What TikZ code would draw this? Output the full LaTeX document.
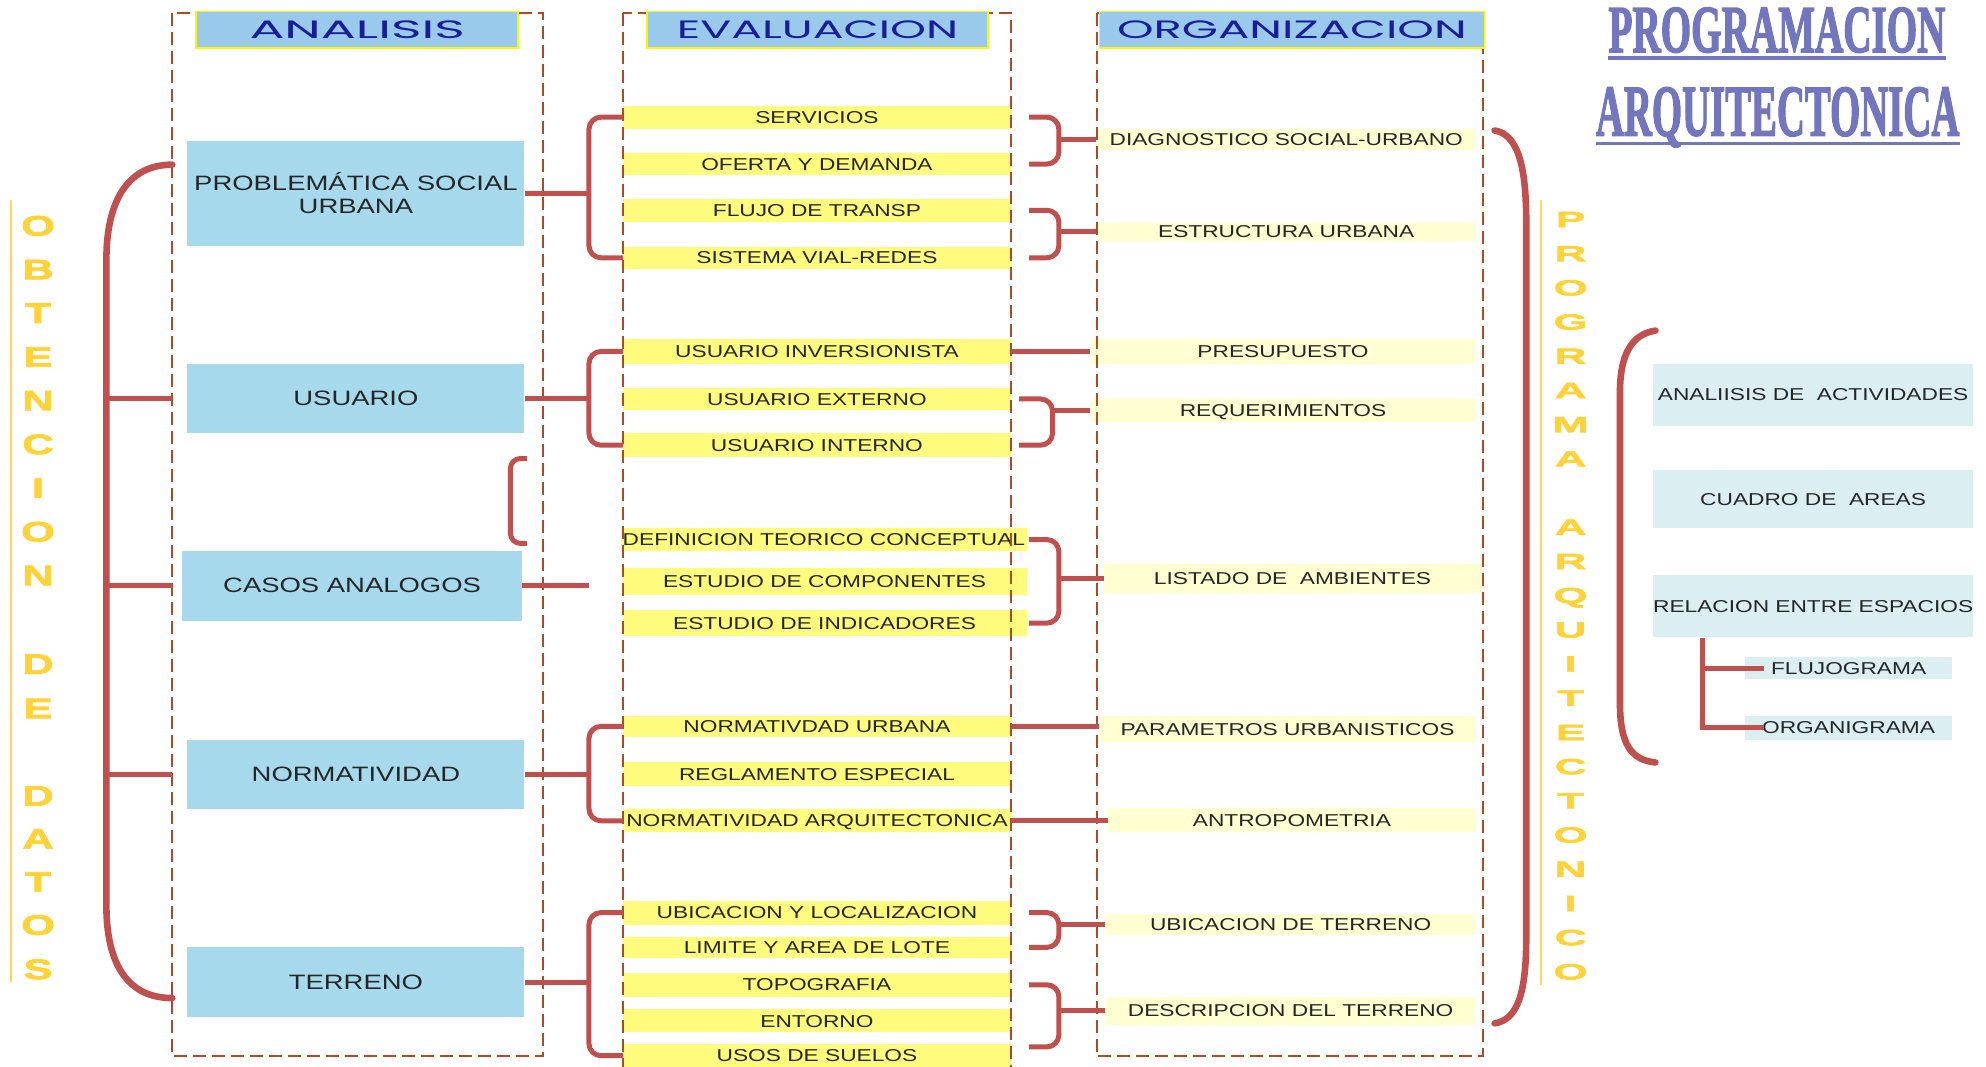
\documentclass[tikz,border=0pt]{standalone}
\usepackage{fontspec}
\usepackage{graphicx}
\setmainfont{Liberation Sans}
\newfontfamily\bodyfont[FakeStretch=1.32]{Liberation Sans}
\newfontfamily\hdrfont{Poppins}
\newfontfamily\titlefont[FakeBold=2.5]{Liberation Serif}
\newfontfamily\vletfontL[FakeStretch=1.55,FakeBold=2.5]{Liberation Sans}
\newfontfamily\vletfontR[FakeStretch=2.0,FakeBold=2.5]{Liberation Sans}

\newdimen\pxu \pxu=0.6333pt

\definecolor{linered}{RGB}{192,80,77}
\definecolor{dashcol}{RGB}{172,76,38}
\definecolor{aboxfill}{RGB}{166,217,236}
\definecolor{hdrfill}{RGB}{153,201,235}
\definecolor{hdrline}{RGB}{255,245,0}
\definecolor{hdrtext}{RGB}{25,30,150}
\definecolor{evfill}{RGB}{255,252,125}
\definecolor{orgfill}{RGB}{255,255,210}
\definecolor{rfill}{RGB}{219,238,242}
\definecolor{txtdark}{RGB}{38,38,38}
\definecolor{yellowtxt}{RGB}{255,210,55}
\definecolor{yellowline}{RGB}{255,215,90}
\definecolor{titleblue}{RGB}{114,118,190}

\tikzset{
  sz/.style 2 args={minimum width=#1*0.6333pt, minimum height=#2*0.6333pt},
  abox/.style={fill=aboxfill, inner sep=0pt, align=center, text=txtdark,
    font=\bodyfont\fontsize{10.4}{11.6}\selectfont},
  ebar/.style={fill=evfill, inner sep=0pt, text=txtdark, text height=6.2pt, text depth=0pt,
    font=\bodyfont\fontsize{8.6}{10}\selectfont},
  obar/.style={ebar, fill=orgfill},
  rbox/.style={ebar, fill=rfill},
  hdr/.style={fill=hdrfill, draw=hdrline, line width=0.9pt, inner sep=0pt, text=hdrtext},
  column/.style={draw=dashcol, line width=1pt, dash pattern=on 6.5pt off 3pt},
  conn/.style={draw=linered, line width=2.5pt},
  bigbrk/.style={draw=linered, line width=3.3pt, line cap=round},
  yline/.style={draw=yellowline, line width=1pt},
  vletL/.style={text=yellowtxt, inner sep=0pt, anchor=base,
    font=\vletfontL\bfseries\fontsize{14.1}{14}\selectfont},
  vletR/.style={text=yellowtxt, inner sep=0pt, anchor=base,
    font=\vletfontR\bfseries\fontsize{11}{11}\selectfont},
  titletxt/.style={text=titleblue, inner sep=0pt, anchor=base, font=\titlefont\bfseries},
  uline/.style={draw=titleblue, line width=1.6pt}
}

\begin{document}
\begin{tikzpicture}[x=0.6333pt,y=-0.6333pt]
\useasboundingbox (0,0) rectangle (1568,842);

% ---------- ANALISIS boxes ----------
\node[abox, sz={266}{83}] (psu) at (281,152.5) {PROBLEMÁTICA SOCIAL\\URBANA};
\node[abox, sz={266}{55}] (usu) at (281,314.5) {USUARIO};
\node[abox, sz={268}{55}] (cas) at (278,462.5) {CASOS ANALOGOS};
\node[abox, sz={266}{55}] (nor) at (281,611.5) {NORMATIVIDAD};
\node[abox, sz={266}{55}] (ter) at (281,775.5) {TERRENO};

% ---------- EVALUACION bars ----------
\node[ebar, sz={306}{18}] (e1) at (645,92.5) {SERVICIOS};
\node[ebar, sz={306}{18}] (e2) at (645,129.5) {OFERTA Y DEMANDA};
\node[ebar, sz={306}{18}] (e3) at (645,166) {FLUJO DE TRANSP};
\node[ebar, sz={306}{17}] (e4) at (645,203.5) {SISTEMA VIAL-REDES};
\node[ebar, sz={306}{19}] (e5) at (645,277.5) {USUARIO INVERSIONISTA};
\node[ebar, sz={306}{18}] (e6) at (645,315) {USUARIO EXTERNO};
\node[ebar, sz={306}{19}] (e7) at (645,351.5) {USUARIO INTERNO};
\node[ebar, sz={320}{18}] (e8) at (650.5,426) {DEFINICION TEORICO CONCEPTUAL};
\node[ebar, sz={319}{21}] (e9) at (651,459) {ESTUDIO DE COMPONENTES};
\node[ebar, sz={319}{21}] (e10) at (651,492) {ESTUDIO DE INDICADORES};
\node[ebar, sz={306}{17}] (e11) at (645,573.5) {NORMATIVDAD URBANA};
\node[ebar, sz={306}{19}] (e12) at (645,611) {REGLAMENTO ESPECIAL};
\node[ebar, sz={306}{18}] (e13) at (645,648) {NORMATIVIDAD ARQUITECTONICA};
\node[ebar, sz={306}{19}] (e14) at (645,720.5) {UBICACION Y LOCALIZACION};
\node[ebar, sz={306}{17}] (e15) at (645,748) {LIMITE Y AREA DE LOTE};
\node[ebar, sz={306}{19}] (e16) at (645,777.5) {TOPOGRAFIA};
\node[ebar, sz={306}{18}] (e17) at (645,806) {ENTORNO};
\node[ebar, sz={306}{19}] (e18) at (645,833.5) {USOS DE SUELOS};

% ---------- ORGANIZACION bars ----------
\node[obar, sz={299}{17}] (diag) at (1015.5,110) {DIAGNOSTICO SOCIAL-URBANO};
\node[obar, sz={299}{14}] (estr) at (1015.5,183) {ESTRUCTURA URBANA};
\node[obar, sz={304}{19}] (pres) at (1013,277.5) {PRESUPUESTO};
\node[obar, sz={304}{18}] (req) at (1013,324) {REQUERIMIENTOS};
\node[obar, sz={297}{23}] (list) at (1020.5,456.5) {LISTADO DE~ AMBIENTES};
\node[obar, sz={297}{21}] (par) at (1016.5,575.5) {PARAMETROS URBANISTICOS};
\node[obar, sz={290}{19}] (ant) at (1020,647.5) {ANTROPOMETRIA};
\node[obar, sz={292}{16}] (ubt) at (1019,730) {UBICACION DE TERRENO};
\node[obar, sz={292}{22}] (desc) at (1019,798) {DESCRIPCION DEL TERRENO};

% ---------- PROGRAMA boxes ----------
\node[rbox, sz={253}{49}] (act) at (1431.5,311.5) {ANALIISIS DE~ ACTIVIDADES};
\node[rbox, sz={253}{46}] (cua) at (1431.5,394) {CUADRO DE~ AREAS};
\node[rbox, sz={253}{49}] (rel) at (1431.5,478.5) {RELACION ENTRE ESPACIOS};
\node[rbox, sz={163}{17}] (flu) at (1459.5,527.5) {FLUJOGRAMA};
\node[rbox, sz={163}{19}] (org) at (1459.5,574.5) {ORGANIGRAMA};

% ---------- dashed columns ----------
\draw[column] (136,10) rectangle (429,834);
\draw[column] (492,10) rectangle (798,870);
\draw[column] (866,10) rectangle (1171,834);

% ---------- column headers ----------
\node[hdr, sz={254}{29}] (hA) at (282,23.5) {\resizebox{170\pxu}{14\pxu}{\hdrfont ANALISIS}};
\node[hdr, sz={269}{29}] (hE) at (645.5,23.5) {\resizebox{222\pxu}{14\pxu}{\hdrfont EVALUACION}};
\node[hdr, sz={304}{29}] (hO) at (1020,23.5) {\resizebox{276\pxu}{14\pxu}{\hdrfont ORGANIZACION}};

% ---------- analysis -> evaluation ----------
\coordinate (kL) at (465,0);
\draw[conn] (psu.east) -- (psu.east -| kL);
\draw[conn, rounded corners=6pt] (e1.west) -| (kL |- e4.west) -- (e4.west);
\draw[conn] (usu.east) -- (usu.east -| kL);
\draw[conn, rounded corners=6pt] (e5.west) -| (kL |- e7.west) -- (e7.west);
\draw[conn] (cas.east) -- (cas.east -| kL);
\draw[conn] (nor.east) -- (nor.east -| kL);
\draw[conn, rounded corners=6pt] (e11.west) -| (kL |- e13.west) -- (e13.west);
\draw[conn] (ter.east) -- (ter.east -| kL);
\draw[conn, rounded corners=6pt] (e14.west) -| (kL |- e18.west) -- (e18.west);

% small bracket between USUARIO and CASOS ANALOGOS
\coordinate (sbTop) at (416,362);
\coordinate (sbBot) at (416,429);
\coordinate (kS) at (403,0);
\draw[conn, rounded corners=5pt] (sbTop) -| (kS |- sbBot) -- (sbBot);

% ---------- evaluation -> organization ----------
\coordinate (kR) at (836,0);
\coordinate (kR2) at (831,0);
\coordinate (e18up) at ([yshift=4.4pt]e18.east);
\draw[conn, rounded corners=6pt] ([xshift=9pt]e1.east) -| (kR |- e2.east) -- ([xshift=9pt]e2.east);
\draw[conn] (kR |- diag.west) -- (diag.west);
\draw[conn, rounded corners=6pt] ([xshift=9pt]e3.east) -| (kR |- e4.east) -- ([xshift=9pt]e4.east);
\draw[conn] (kR |- estr.west) -- (estr.west);
\draw[conn] (e5.east) -- (pres.west);
\draw[conn, rounded corners=6pt] ([xshift=4pt]e6.east) -| (kR2 |- e7.east) -- ([xshift=4pt]e7.east);
\draw[conn] (kR2 |- req.west) -- (req.west);
\draw[conn, rounded corners=6pt] ([xshift=1pt]e8.east) -| (kR |- e10.east) -- ([xshift=1pt]e10.east);
\draw[conn] (kR |- list.west) -- (list.west);
\draw[conn] (e11.east) -- (e11.east -| par.west);
\draw[conn] (e13.east) -- (e13.east -| ant.west);
\draw[conn, rounded corners=6pt] ([xshift=9pt]e14.east) -| (kR |- e15.east) -- ([xshift=9pt]e15.east);
\draw[conn] (kR |- ubt.west) -- (ubt.west);
\draw[conn, rounded corners=6pt] ([xshift=9pt]e16.east) -| (kR |- e18up) -- ([xshift=9pt]e18up);
\draw[conn] (kR |- desc.west) -- (desc.west);

% ---------- big brackets ----------
\coordinate (obtTop) at (136,130);
\coordinate (obtBot) at (136,788);
\coordinate (spL) at (84,0);
\draw[bigbrk] (obtTop) .. controls (100,130) and (84,160) .. (84,205) -- (84,715) .. controls (84,760) and (100,788) .. (obtBot);
\draw[conn] (spL |- usu.west) -- ([xshift=-7.6pt]usu.west);
\draw[conn] (spL |- cas.west) -- ([xshift=-5pt]cas.west);
\draw[conn] (spL |- nor.west) -- ([xshift=-7.6pt]nor.west);

\coordinate (prgTop) at (1180,103);
\coordinate (prgBot) at (1180,808);
\draw[bigbrk] (prgTop) .. controls (1198,106) and (1205,130) .. (1205,175) -- (1205,740) .. controls (1205,785) and (1198,805) .. (prgBot);

\coordinate (subTop) at (1307,261);
\coordinate (subBot) at (1307,602);
\draw[bigbrk] (subTop) .. controls (1288,264) and (1279,280) .. (1279,310) -- (1279,555) .. controls (1279,588) and (1288,600) .. (subBot);

% ---------- relation diagrams ----------
\coordinate (relX) at (1344,0);
\draw[conn] (relX |- rel.south) |- ([xshift=9.5pt]org.west);
\draw[conn] (relX |- flu.west) -- ([xshift=9.5pt]flu.west);

% ---------- side captions ----------
\draw[yline] (9,158) -- (9,775);
\draw[yline] (1217,158) -- (1217,778);
\foreach \ch/\yy [count=\i] in {O/178,B/212.5,T/247,E/281.5,N/316,C/350.5,I/385,O/419.5,N/454,
  D/524,E/559,D/628,A/662,T/696,O/730,S/765}
  \node[vletL] (obt\i) at (30,{\yy+8}) {\ch};
\foreach \ch/\yy [count=\i] in {P/173,R/200,O/227,G/254,R/281,A/308,M/335,A/362,
  A/416,R/443,Q/470,U/497,I/524,T/551,E/578,C/605,T/632,O/659,N/686,I/713,C/740,O/767}
  \node[vletR] (prg\i) at (1240,{\yy+6.25}) {\ch};

% ---------- title ----------
\node[titletxt] (t1) at (1403,41) {\resizebox{266\pxu}{35\pxu}{PROGRAMACION}};
\node[titletxt] (t2) at (1403.5,107) {\resizebox{287\pxu}{38\pxu}{ARQUITECTONICA}};
\draw[uline] ([yshift=-3pt]t1.base west) -- ([yshift=-3pt]t1.base east);
\draw[uline] ([yshift=-3.8pt]t2.base west) -- ([yshift=-3.8pt]t2.base east);
\end{tikzpicture}
\end{document}
